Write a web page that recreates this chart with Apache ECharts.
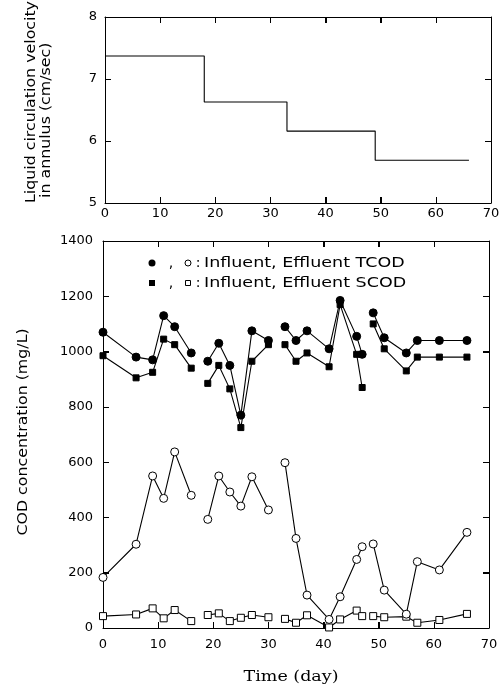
<!DOCTYPE html>
<html>
<head>
<meta charset="utf-8">
<script src="https://cdn.jsdelivr.net/npm/echarts@6/dist/echarts.min.js"></script>
<style>
  html, body { margin: 0; padding: 0; background: #fff; }
  #chart { width: 503px; height: 687px; }
</style>
</head>
<body>
<div id="chart"></div>
<script>
// Upper panel: liquid circulation velocity in the annulus (cm/sec), held stepwise
const velocityDays = [0, 18, 33, 49, 66];
const velocityValues = [7.37, 6.63, 6.16, 5.69, 5.69];

// Lower panel: sampling days, split into four operating runs
const sampleDays = [0, 6, 9, 11, 13, 16, 19, 21, 23, 25, 27, 30, 33, 35, 37, 41, 43, 46, 47, 49, 51, 55, 57, 61, 66];
const runStartIndex = [6, 12, 19];

// COD concentrations (mg/L)
const influentTCOD = [1070, 980, 970, 1130, 1090, 995, 965, 1030, 950, 770, 1075, 1040, 1090, 1040, 1075, 1010, 1185, 1055, 990, 1140, 1050, 995, 1040, 1040, 1040];
const influentSCOD = [985, 905, 925, 1045, 1025, 940, 885, 950, 865, 725, 965, 1025, 1025, 965, 995, 945, 1170, 990, 870, 1100, 1010, 930, 980, 980, 980];
const effluentTCOD = [183, 303, 550, 469, 637, 480, 393, 550, 492, 441, 547, 427, 598, 324, 119, 31, 113, 248, 294, 304, 137, 50, 240, 210, 346];
const effluentSCOD = [43, 49, 71, 35, 65, 25, 47, 53, 25, 37, 47, 39, 33, 19, 46, 2, 31, 63, 43, 43, 39, 41, 19, 29, 51];

// Axis ranges
const dayRange = { min: 0, max: 70, interval: 10 };
const velocityRange = { min: 5, max: 8, interval: 1 };
const codRange = { min: 0, max: 1400, interval: 200 };

// Pairs each value with its day and breaks the line between runs
function withRunGaps(values) {
  const out = [];
  sampleDays.forEach((d, i) => {
    if (runStartIndex.includes(i)) out.push(['-', '-']);
    out.push([d, values[i]]);
  });
  return out;
}

const INK = '#000';
const LABEL_FONT = 'DejaVu Sans';
const TICK_LEN = 6;

// Plot boxes: each panel gets a twin grid for its top/right frame lines
const upperBox = { left: 105, top: 17, width: 386, height: 186 };
const lowerBox = { left: 103, top: 241, width: 386, height: 387 };

function axis(extra, showLabels, margin) {
  return Object.assign({
    type: 'value',
    splitLine: { show: false },
    axisLine: { show: true, onZero: false, lineStyle: { color: INK, width: 1 } },
    axisTick: { show: true, inside: true, length: TICK_LEN, lineStyle: { color: INK, width: 1 } },
    axisLabel: {
      show: showLabels, color: INK, fontFamily: LABEL_FONT, fontSize: 13,
      margin: margin || 8, formatter: v => String(v)
    }
  }, extra);
}

function markerSeries(name, values, symbol, size, filled) {
  return {
    name: name,
    type: 'line',
    xAxisIndex: 1,
    yAxisIndex: 1,
    data: withRunGaps(values),
    connectNulls: false,
    symbol: symbol,
    symbolSize: size,
    showAllSymbol: true,
    lineStyle: { color: INK, width: 1.1 },
    itemStyle: { color: filled ? INK : '#fff', borderColor: INK, borderWidth: 1 },
    emphasis: { disabled: true }
  };
}

// Empty series bound to a twin grid so its mirrored axes are laid out
function frameSeries(idx) {
  return { type: 'line', xAxisIndex: idx, yAxisIndex: idx, data: [], silent: true, symbol: 'none' };
}

// Inward tick marks on all four sides of a plot box, as thin filled bars
function tickMarks(box, xr, yr) {
  const bar = (x, y, w, h) => ({ type: 'rect', silent: true, z: 100, shape: { x: x, y: y, width: w, height: h }, style: { fill: INK } });
  const out = [];
  const bottom = box.top + box.height;
  const right = box.left + box.width;
  for (let v = xr.min + xr.interval; v < xr.max; v += xr.interval) {
    const x = Math.round(box.left + (v - xr.min) / (xr.max - xr.min) * box.width);
    out.push(bar(x, bottom - TICK_LEN, 1, TICK_LEN), bar(x, box.top, 1, TICK_LEN));
  }
  for (let v = yr.min + yr.interval; v < yr.max; v += yr.interval) {
    const y = Math.round(bottom - (v - yr.min) / (yr.max - yr.min) * box.height);
    out.push(bar(box.left, y, TICK_LEN, 1), bar(right - TICK_LEN, y, TICK_LEN, 1));
  }
  return out;
}

function rotatedTitle(text, x, y, align) {
  return {
    type: 'text', x: x, y: y, rotation: Math.PI / 2, scaleX: 1.13,
    style: { text: text, fill: INK, font: '14px "DejaVu Sans"', align: align, verticalAlign: 'middle' }
  };
}

const keyAndTitles = [
  // Axis titles
  rotatedTitle('Liquid circulation velocity', 31, 203, 'left'),
  rotatedTitle('in annulus (cm/sec)', 46, 198, 'left'),
  rotatedTitle('COD concentration (mg/L)', 23, 432, 'center'),
  {
    type: 'text', x: 291, y: 677, scaleX: 1.25,
    style: { text: 'Time (day)', fill: INK, font: '14px "DejaVu Serif"', align: 'center', verticalAlign: 'middle' }
  },
  // Symbol key
  { type: 'circle', shape: { cx: 152, cy: 263, r: 3.5 }, style: { fill: INK } },
  { type: 'text', x: 171, y: 263, style: { text: ',', fill: INK, font: '14px "DejaVu Sans"', align: 'center', verticalAlign: 'middle' } },
  { type: 'circle', shape: { cx: 188, cy: 263, r: 3 }, style: { fill: '#fff', stroke: INK, lineWidth: 1 } },
  { type: 'text', x: 198, y: 263, style: { text: ':', fill: INK, font: '14px "DejaVu Sans"', align: 'center', verticalAlign: 'middle' } },
  { type: 'text', x: 204, y: 263, scaleX: 1.25, style: { text: 'Influent, Effluent TCOD', fill: INK, font: '14px "DejaVu Sans"', align: 'left', verticalAlign: 'middle' } },
  { type: 'rect', shape: { x: 149, y: 280, width: 6, height: 6 }, style: { fill: INK } },
  { type: 'text', x: 171, y: 283, style: { text: ',', fill: INK, font: '14px "DejaVu Sans"', align: 'center', verticalAlign: 'middle' } },
  { type: 'rect', shape: { x: 185.5, y: 280.5, width: 5, height: 5 }, style: { fill: '#fff', stroke: INK, lineWidth: 1 } },
  { type: 'text', x: 198, y: 283, style: { text: ':', fill: INK, font: '14px "DejaVu Sans"', align: 'center', verticalAlign: 'middle' } },
  { type: 'text', x: 204, y: 283, scaleX: 1.25, style: { text: 'Influent, Effluent SCOD', fill: INK, font: '14px "DejaVu Sans"', align: 'left', verticalAlign: 'middle' } }
];

const chart = echarts.init(document.getElementById('chart'), null, { renderer: 'canvas' });

chart.setOption({
  animation: false,
  backgroundColor: '#fff',
  grid: [
    Object.assign({}, upperBox),
    Object.assign({}, lowerBox),
    Object.assign({}, upperBox),
    Object.assign({}, lowerBox)
  ],
  xAxis: [
    axis(Object.assign({ gridIndex: 0, position: 'bottom' }, dayRange), true, 4),
    axis(Object.assign({ gridIndex: 1, position: 'bottom' }, dayRange), true, 10),
    axis(Object.assign({ gridIndex: 2, position: 'top' }, dayRange), false),
    axis(Object.assign({ gridIndex: 3, position: 'top' }, dayRange), false)
  ],
  yAxis: [
    axis(Object.assign({ gridIndex: 0, position: 'left' }, velocityRange), true, 8),
    axis(Object.assign({ gridIndex: 1, position: 'left' }, codRange), true, 10),
    axis(Object.assign({ gridIndex: 2, position: 'right' }, velocityRange), false),
    axis(Object.assign({ gridIndex: 3, position: 'right' }, codRange), false)
  ],
  series: [
    frameSeries(2),
    frameSeries(3),
    {
      name: 'Liquid circulation velocity',
      type: 'line',
      xAxisIndex: 0,
      yAxisIndex: 0,
      step: 'end',
      symbol: 'none',
      data: velocityDays.map((d, i) => [d, velocityValues[i]]),
      lineStyle: { color: INK, width: 1.1 },
      emphasis: { disabled: true }
    },
    markerSeries('Effluent SCOD', effluentSCOD, 'rect', 7, false),
    markerSeries('Effluent TCOD', effluentTCOD, 'circle', 8, false),
    markerSeries('Influent SCOD', influentSCOD, 'rect', 6, true),
    markerSeries('Influent TCOD', influentTCOD, 'circle', 8, true)
  ],
  graphic: keyAndTitles
    .concat(tickMarks(upperBox, dayRange, velocityRange))
    .concat(tickMarks(lowerBox, dayRange, codRange))
});
</script>
</body>
</html>
